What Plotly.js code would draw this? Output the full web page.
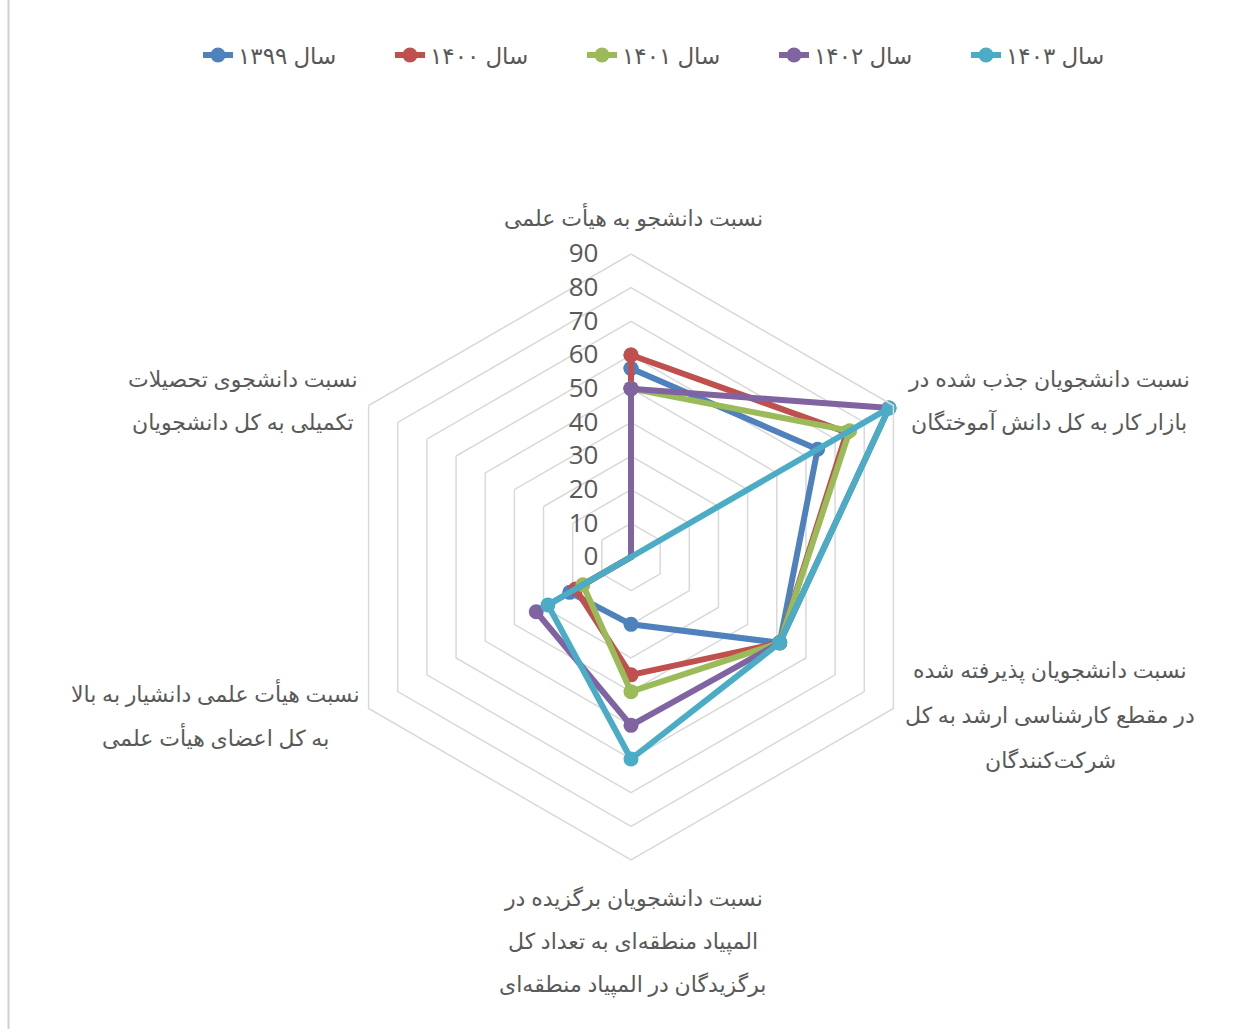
<!DOCTYPE html>
<html>
<head>
<meta charset="utf-8">
<script src="https://cdn.plot.ly/plotly-3.0.1.min.js"></script>
<style>html,body{margin:0;padding:0;background:#fff;}#chart{width:1246px;height:1029px;}</style>
</head>
<body>
<div id="chart"></div>
<script>
// Category labels (lines of each axis label)
const categoryLines = [
  ["نسبت دانشجو به هیأت علمی"],
  ["نسبت دانشجویان جذب شده در", "بازار کار به کل دانش آموختگان"],
  ["نسبت دانشجویان پذیرفته شده", "در مقطع کارشناسی ارشد به کل", "شرکت‌کنندگان"],
  ["نسبت دانشجویان برگزیده در", "المپیاد منطقه‌ای به تعداد کل", "برگزیدگان در المپیاد منطقه‌ای"],
  ["نسبت هیأت علمی دانشیار به بالا", "به کل اعضای هیأت علمی"],
  ["نسبت دانشجوی تحصیلات", "تکمیلی به کل دانشجویان"]
];
const seriesNames = ["سال ۱۳۹۹", "سال ۱۴۰۰", "سال ۱۴۰۱", "سال ۱۴۰۲", "سال ۱۴۰۳"];
const values1399 = [56, 64, 51, 20, 21, 0];
const values1400 = [60, 74, 51, 35, 19, 0];
const values1401 = [50, 75, 51, 40, 16.5, 0];
const values1402 = [50, 88.5, 51, 50, 32.5, 0];
const values1403 = [0, 88.5, 51, 60, 28.5, 0];
const radialTicks = [0, 10, 20, 30, 40, 50, 60, 70, 80, 90];

const colors = ["#4F81BD", "#C0504D", "#9BBB59", "#8064A2", "#4BACC6"];
const allValues = [values1399, values1400, values1401, values1402, values1403];
const categories = categoryLines.map(l => l.join(" "));
const FONT = "'Segoe UI', 'Open Sans', 'DejaVu Sans', sans-serif";

const traces = allValues.map((vals, i) => ({
  type: "scatterpolar",
  mode: "lines+markers",
  name: seriesNames[i],
  r: vals.concat([vals[0]]),
  theta: categories.concat([categories[0]]),
  line: {color: colors[i], width: 6},
  marker: {color: colors[i], size: 15},
  hoverinfo: "name+r"
}));

const W = 1246, H = 1029, cx = 631, cy = 557, R = 303;
// label placement (pixel centres of each label line)
const labelPos = [
  {x: 633, y: [217]},
  {x: 1049, y: [378, 421]},
  {x: 1050, y: [669, 714, 759]},
  {x: 633, y: [897, 940, 983]},
  {x: 215, y: [693, 737]},
  {x: 243, y: [378, 421]}
];
const annotations = [];
categoryLines.forEach((lines, i) => {
  lines.forEach((txt, j) => {
    annotations.push({
      text: txt, showarrow: false, xref: "paper", yref: "paper",
      x: labelPos[i].x / W, y: 1 - labelPos[i].y[j] / H,
      xanchor: "center", yanchor: "middle",
      font: {size: 22, color: "#595959", family: FONT}
    });
  });
});

const layout = {
  width: W, height: H,
  margin: {l: 0, r: 0, t: 0, b: 0},
  paper_bgcolor: "#ffffff",
  font: {family: FONT, color: "#595959"},
  showlegend: true,
  legend: {
    orientation: "h", x: 198 / W, xanchor: "left", y: 1 - 55 / H, yanchor: "middle",
    font: {size: 23, color: "#595959", family: FONT},
    entrywidth: 147, entrywidthmode: "pixels", traceorder: "normal"
  },
  polar: {
    domain: {x: [(cx - R) / W, (cx + R) / W], y: [(H - cy - R) / H, (H - cy + R) / H]},
    bgcolor: "rgba(0,0,0,0)",
    gridshape: "linear",
    radialaxis: {
      range: [0, 90], tickvals: radialTicks, ticktext: radialTicks.map(String),
      angle: 90, side: "counterclockwise", tickangle: 90,
      showline: false, ticks: "outside", ticklen: 23, tickcolor: "rgba(0,0,0,0)",
      gridcolor: "#d9d9d9", gridwidth: 1.5,
      tickfont: {size: 26, color: "#595959", family: FONT}
    },
    angularaxis: {
      type: "category", categoryarray: categories, direction: "clockwise", rotation: 90,
      showgrid: false, showline: true, linecolor: "#d9d9d9", linewidth: 1.5, ticks: "",
      showticklabels: false
    }
  },
  annotations: annotations,
  shapes: [{type: "line", xref: "paper", yref: "paper", x0: 8.5 / W, x1: 8.5 / W, y0: 0, y1: 1,
            line: {color: "#d0d0d0", width: 2}}]
};

Plotly.newPlot("chart", traces, layout, {displayModeBar: false, staticPlot: true});
</script>
</body>
</html>
